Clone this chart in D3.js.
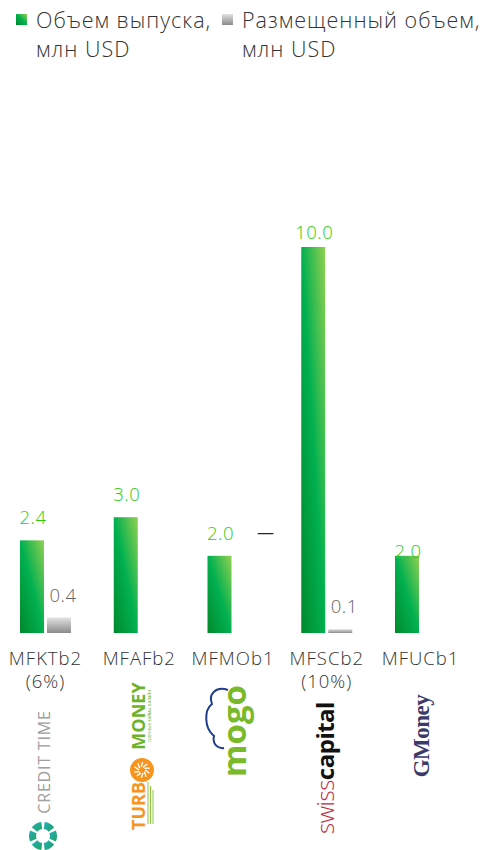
<!DOCTYPE html>
<html><head><meta charset="utf-8">
<script src="https://cdn.jsdelivr.net/npm/d3@7"></script>
<style>
html,body{margin:0;padding:0;background:#fff;}
svg{display:block;font-family:"Open Sans",Lato,sans-serif;}
</style></head>
<body>
<script>
// ---- data ----
const categories = ["MFKTb2", "MFAFb2", "MFMOb1", "MFSCb2", "MFUCb1"];
const subLabels = ["(6%)", "", "", "(10%)", ""];
const issued = [2.4, 3.0, 2.0, 10.0, 2.0];          // Объем выпуска, млн USD
const placed = [0.4, null, 0, 0.1, null];           // Размещенный объем, млн USD
const placedText = ["0.4", "", "—", "0.1", ""];
const issuedText = ["2.4", "3.0", "2.0", "10.0", "2.0"];
const legendLabels = [["Объем выпуска,", "млн USD"], ["Размещенный объем,", "млн USD"]];

// label nudges (layout)
const issuedDy = [-16, -16, -16, -8, 2];

const W = 489, H = 850;
const svg = d3.select("body").append("svg").attr("width", W).attr("height", H);
const defs = svg.append("defs");
const gg = defs.append("linearGradient").attr("id", "gGreen").attr("x1", 1).attr("y1", 0).attr("x2", 0).attr("y2", 1);
gg.append("stop").attr("offset", 0).attr("stop-color", "#92d050");
gg.append("stop").attr("offset", 0.5).attr("stop-color", "#00b050");
gg.append("stop").attr("offset", 1).attr("stop-color", "#00892b");
const gr = defs.append("linearGradient").attr("id", "gGray").attr("x1", 0).attr("y1", 0).attr("x2", 0).attr("y2", 1);
gr.append("stop").attr("offset", 0).attr("stop-color", "#e2e2e2");
gr.append("stop").attr("offset", 1).attr("stop-color", "#8a8a8a");

// ---- scales ----
const x0 = d3.scaleBand().domain(categories).range([-1.375, 467.375]).paddingInner(0.456).paddingOuter(0.228);
const x1 = d3.scaleBand().domain(["issued", "placed"]).range([0, x0.bandwidth()]).paddingInner(0.111);
const y = d3.scaleLinear().domain([0, 10]).range([633, 247]);

// ---- legend ----
const legend = svg.append("g");
const legX = [16, 222];
const legFill = ["url(#gGreen)", "url(#gGray)"];
legendLabels.forEach((lines, i) => {
  const g = legend.append("g").attr("transform", `translate(${legX[i]},0)`);
  g.append("rect").attr("x", 0).attr("y", 14).attr("width", 11).attr("height", 11).attr("fill", legFill[i]);
  g.append("text").attr("x", 20).attr("y", 28).attr("font-size", 21.5).attr("letter-spacing", 1).attr("fill", "#333").attr("font-weight", 300).text(lines[0]);
  g.append("text").attr("x", 20).attr("y", 57).attr("font-size", 21.5).attr("letter-spacing", 1).attr("fill", "#333").attr("font-weight", 300).text(lines[1]);
});

// ---- bars ----
const groups = svg.append("g").selectAll("g").data(categories).join("g")
  .attr("transform", d => `translate(${x0(d)},0)`);

groups.append("rect")
  .attr("x", x1("issued")).attr("width", x1.bandwidth())
  .attr("y", (d, i) => y(issued[i])).attr("height", (d, i) => y(0) - y(issued[i]))
  .attr("fill", "url(#gGreen)");

groups.filter((d, i) => placed[i] != null && placed[i] > 0).append("rect")
  .attr("x", x1("placed")).attr("width", x1.bandwidth())
  .attr("y", d => y(placed[categories.indexOf(d)]))
  .attr("height", d => y(0) - y(placed[categories.indexOf(d)]))
  .attr("fill", "url(#gGray)");

groups.append("text")
  .attr("x", x1("issued") + x1.bandwidth() / 2 + 1)
  .attr("y", (d, i) => y(issued[i]) + issuedDy[i])
  .attr("text-anchor", "middle").attr("font-size", 18.5).attr("letter-spacing", 0.5).attr("font-weight", 300).attr("fill", "#2ecc0e")
  .text((d, i) => issuedText[i]);

groups.filter((d, i) => placed[i] != null && placed[i] > 0).append("text")
  .attr("x", x1("placed") + x1.bandwidth() / 2 + 4)
  .attr("y", d => y(placed[categories.indexOf(d)]) - 16)
  .attr("text-anchor", "middle").attr("font-size", 18.5).attr("letter-spacing", 0.5).attr("font-weight", 300).attr("fill", "#666")
  .text(d => placedText[categories.indexOf(d)]);

// dash for zero placement
groups.filter((d, i) => placed[i] === 0).append("text")
  .attr("x", x1("placed") + x1.bandwidth() / 2 + 19)
  .attr("y", d => y(issued[categories.indexOf(d)]) - 18)
  .attr("text-anchor", "middle").attr("font-size", 17).attr("fill", "#222")
  .text(d => placedText[categories.indexOf(d)]);

// ---- category labels ----
groups.append("text")
  .attr("x", x0.bandwidth() / 2).attr("y", 665)
  .attr("text-anchor", "middle").attr("font-size", 18.5).attr("letter-spacing", 1).attr("fill", "#333").attr("font-weight", 300)
  .text(d => d);
groups.append("text")
  .attr("x", x0.bandwidth() / 2).attr("y", 688)
  .attr("text-anchor", "middle").attr("font-size", 18.5).attr("letter-spacing", 1).attr("fill", "#333").attr("font-weight", 300)
  .text((d, i) => subLabels[i]);

// ---- logos (decorative) ----
const logos = svg.append("g");
// CREDIT TIME
logos.append("text").attr("transform", "translate(50,762) rotate(-90)")
  .attr("text-anchor", "middle").attr("font-size", 16).attr("letter-spacing", 0.8)
  .attr("fill", "#a0a0a0").attr("font-family", "'Open Sans',Lato,sans-serif").text("CREDIT TIME");
const ctg = defs.append("linearGradient").attr("id", "gTeal").attr("x1", 0).attr("y1", 0).attr("x2", 1).attr("y2", 1);
ctg.append("stop").attr("offset", 0).attr("stop-color", "#1fb0c0");
ctg.append("stop").attr("offset", 1).attr("stop-color", "#23a35a");
const arcGen = d3.arc().innerRadius(7).outerRadius(14);
for (let k = 0; k < 6; k++) {
  const a0 = k * Math.PI / 3 + 0.12, a1 = (k + 1) * Math.PI / 3 - 0.12;
  logos.append("path").attr("transform", "translate(43,836)")
    .attr("d", arcGen({startAngle: a0, endAngle: a1})).attr("fill", "url(#gTeal)");
}
// TURBOMONEY
logos.append("text").attr("transform", "translate(145,716) rotate(-90)")
  .attr("text-anchor", "middle").attr("font-size", 18).attr("font-weight", 700)
  .attr("fill", "#6db22b").attr("font-family", "'Open Sans',sans-serif").text("MONEY");
logos.append("text").attr("transform", "translate(145,806) rotate(-90)")
  .attr("text-anchor", "middle").attr("font-size", 18).attr("font-weight", 700)
  .attr("fill", "#f7941d").attr("font-family", "'Open Sans',sans-serif").text("TURB");
logos.append("circle").attr("cx", 142).attr("cy", 770).attr("r", 12).attr("fill", "#f7941d");
for (let k = 0; k < 10; k++) {
  const a = k * Math.PI / 5;
  logos.append("line").attr("x1", 142 + 3 * Math.cos(a)).attr("y1", 770 + 3 * Math.sin(a))
    .attr("x2", 142 + 8 * Math.cos(a + 0.4)).attr("y2", 770 + 8 * Math.sin(a + 0.4))
    .attr("stroke", "#fff").attr("stroke-width", 1.3);
}
logos.append("text").attr("transform", "translate(151,716) rotate(-90)")
  .attr("text-anchor", "middle").attr("font-size", 4.5).attr("fill", "#6db22b").text("срочные займы онлайн");
[148, 150.5, 153].forEach((lx, k) => {
  logos.append("line").attr("x1", lx).attr("x2", lx).attr("y1", 782 + k * 4).attr("y2", 824)
    .attr("stroke", "#8cc63f").attr("stroke-width", 1);
});
// mogo
logos.append("path").attr("d", "M228,690 C216,686 208,694 212,704 C204,710 204,728 214,736 C212,744 218,749 224,748")
  .attr("fill", "none").attr("stroke", "#1f3d8c").attr("stroke-width", 2);
logos.append("text").attr("transform", "translate(246,731) rotate(-90)")
  .attr("text-anchor", "middle").attr("font-size", 33).attr("font-weight", 700)
  .attr("fill", "#7ab929").attr("font-family", "'Open Sans',sans-serif").text("mogo");
// swisscapital
const sc = logos.append("text").attr("transform", "translate(334,768) rotate(-90)")
  .attr("text-anchor", "middle").attr("font-size", 24).attr("letter-spacing", -0.5)
  .attr("font-family", "'Open Sans',sans-serif");
sc.append("tspan").attr("fill", "#c4283c").attr("font-weight", 300).text("swiss");
sc.append("tspan").attr("fill", "#111").attr("font-weight", 700).text("capital");
// GMoney
logos.append("text").attr("transform", "translate(429,736) rotate(-90)")
  .attr("text-anchor", "middle").attr("font-size", 23).attr("font-weight", 700).attr("letter-spacing", -0.5)
  .attr("fill", "#3b3a6b").attr("font-family", "'Liberation Serif','DejaVu Serif',serif").text("GMoney");
</script>
</body></html>
